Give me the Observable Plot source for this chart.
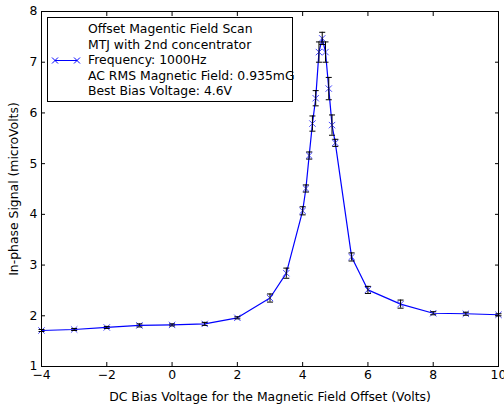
<!DOCTYPE html>
<html>
<head>
<meta charset="utf-8">
<script src="https://cdn.jsdelivr.net/npm/d3@7"></script>
<script src="https://cdn.jsdelivr.net/npm/@observablehq/plot@0.6"></script>
<style>
  body { margin: 0; background: #fff; font-family: "DejaVu Sans", sans-serif; }
  #wrap { position: relative; width: 504px; height: 404px; }
  #legend { position: absolute; left: 47px; top: 17px; width: 246px; height: 85px; box-sizing: border-box;
            border: 1px solid #000; background: #fff; font-size: 12.4px; color: #000; }
  #legend .txt { position: absolute; left: 40px; top: 3px; line-height: 15.5px; white-space: pre; }
  #legend svg { position: absolute; left: 0; top: 0; }
</style>
</head>
<body>
<div id="wrap">
  <div id="chart"></div>
  <div id="legend"></div>
</div>
<script>
// Data
const voltage  = [-4, -3, -2, -1, 0, 1, 2, 3, 3.5, 4, 4.1, 4.2, 4.3, 4.4, 4.5, 4.6, 4.7, 4.8, 4.9, 5, 5.5, 6, 7, 8, 9, 10];
const signal   = [1.71, 1.73, 1.77, 1.81, 1.82, 1.84, 1.96, 2.35, 2.84, 4.07, 4.51, 5.16, 5.79, 6.29, 7.2, 7.47, 7.2, 6.48, 5.76, 5.41, 3.16, 2.51, 2.23, 2.05, 2.04, 2.02];
const errorBar = [0.02, 0.02, 0.02, 0.03, 0.02, 0.03, 0.02, 0.08, 0.1, 0.08, 0.07, 0.07, 0.15, 0.15, 0.2, 0.12, 0.2, 0.22, 0.2, 0.07, 0.08, 0.07, 0.08, 0.03, 0.03, 0.02];
const xTicks = [-4, -2, 0, 2, 4, 6, 8, 10];
const yTicks = [1, 2, 3, 4, 5, 6, 7, 8];
const legendLines = [
  "Offset Magentic Field Scan",
  "MTJ with 2nd concentrator",
  "Frequency: 1000Hz",
  "AC RMS Magnetic Field: 0.935mG",
  "Best Bias Voltage: 4.6V"
];
const xLabel = "DC Bias Voltage for the Magnetic Field Offset (Volts)";
const yLabel = "In-phase Signal (microVolts)";

const data = voltage.map((v, i) => ({v, s: signal[i], e: errorBar[i]}));

const capSymbol = {
  draw(ctx, size) {
    const w = Math.sqrt(size / Math.PI);
    ctx.moveTo(-w, 0);
    ctx.lineTo(w, 0);
  }
};

const chart = Plot.plot({
  width: 504,
  height: 404,
  marginLeft: 41,
  marginRight: 6,
  marginTop: 11,
  marginBottom: 38,
  style: {fontFamily: "DejaVu Sans", fontSize: "12.4px", color: "black", background: "white"},
  x: {domain: [-4, 10]},
  y: {domain: [1, 8]},
  marks: [
    Plot.line(data, {x: "v", y: "s", stroke: "blue", strokeWidth: 1.2}),
    Plot.dot(data, {x: "v", y: "s", symbol: "times", r: 3, stroke: "#4a4aff", strokeWidth: 1}),
    Plot.ruleX(data, {x: "v", y1: d => d.s - d.e, y2: d => d.s + d.e, stroke: "black", strokeWidth: 1}),
    Plot.dot(data, {x: "v", y: d => d.s + d.e, symbol: capSymbol, r: 3, fill: "none", stroke: "black", strokeWidth: 1}),
    Plot.dot(data, {x: "v", y: d => d.s - d.e, symbol: capSymbol, r: 3, fill: "none", stroke: "black", strokeWidth: 1}),
    Plot.axisX(xTicks, {anchor: "bottom", tickSize: 0, tickPadding: 4, label: xLabel, labelAnchor: "center", labelArrow: "none", labelOffset: 34, fontSize: 12.4}),
    Plot.axisX(xTicks, {anchor: "bottom", tickSize: -4, tickFormat: () => "", label: null}),
    Plot.axisX(xTicks, {anchor: "top", tickSize: -4, tickFormat: () => "", label: null}),
    Plot.axisY(yTicks, {anchor: "left", tickSize: 0, tickPadding: 4, tickFormat: d3.format("d"), label: yLabel, labelAnchor: "center", labelArrow: "none", labelOffset: 32, fontSize: 12.4}),
    Plot.axisY(yTicks, {anchor: "left", tickSize: -4, tickFormat: () => "", label: null}),
    Plot.axisY(yTicks, {anchor: "right", tickSize: -4, tickFormat: () => "", label: null}),
    Plot.frame({stroke: "black", strokeWidth: 1})
  ]
});
document.getElementById("chart").appendChild(chart);

// Legend
const legend = document.getElementById("legend");
const txt = document.createElement("div");
txt.className = "txt";
txt.textContent = legendLines.join("\n");
legend.appendChild(txt);
const ns = "http://www.w3.org/2000/svg";
const sv = document.createElementNS(ns, "svg");
sv.setAttribute("width", 40); sv.setAttribute("height", 83);
const cy = 42.5;
const mk = (x1, y1, x2, y2) => {
  const l = document.createElementNS(ns, "line");
  l.setAttribute("x1", x1); l.setAttribute("y1", y1); l.setAttribute("x2", x2); l.setAttribute("y2", y2);
  l.setAttribute("stroke", "blue"); l.setAttribute("stroke-width", 1);
  sv.appendChild(l);
};
mk(7, cy, 29, cy);
for (const cx of [7, 29]) { mk(cx - 3, cy - 3, cx + 3, cy + 3); mk(cx - 3, cy + 3, cx + 3, cy - 3); }
legend.appendChild(sv);
</script>
</body>
</html>
